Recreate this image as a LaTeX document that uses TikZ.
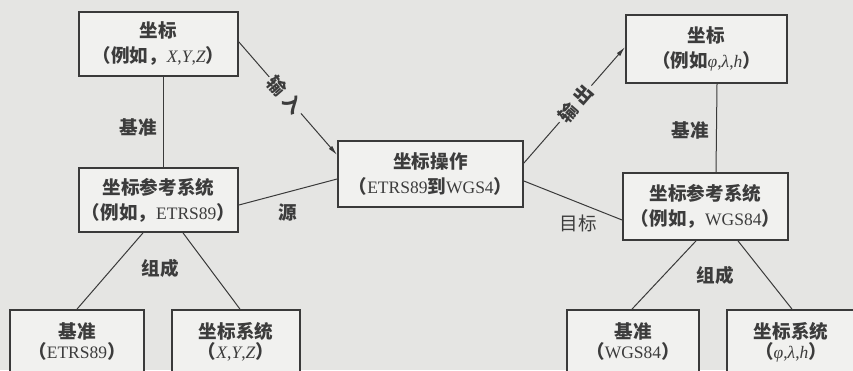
\documentclass[tikz,border=0pt]{standalone}
\usepackage{fontspec}
\setmainfont{Liberation Serif}
\newfontfamily\cjk{Noto Sans CJK SC}[Scale=1.06]
\usetikzlibrary{arrows.meta}
\definecolor{bgc}{HTML}{E5E5E3}
\definecolor{boxc}{HTML}{F1F1EF}
\definecolor{linec}{HTML}{3A3A3A}
\definecolor{txtc}{HTML}{3C3C3C}
\newcommand\zh[1]{{\cjk\bfseries #1}}
\newcommand\zr[1]{{\cjk #1}}
\tikzset{
  box/.style={draw=linec, line width=1.8pt, fill=boxc, inner sep=0pt, align=center, text=txtc, font=\fontsize{17.5}{25}\selectfont},
  sbox/.style={box, font=\fontsize{17.5}{20}\selectfont},
  conn/.style={draw=linec, line width=1pt},
  arr/.style={conn, -{Latex[length=10pt,width=4.5pt]}},
  lab/.style={text=txtc, font=\fontsize{17.5}{18}\selectfont, inner sep=1pt},
  slab/.style={lab, sloped, fill=bgc, inner sep=3pt}
}
\begin{document}
\begin{tikzpicture}[x=1pt,y=-1pt]
\fill[bgc] (0,0) rectangle (853,370);
\useasboundingbox (0,0) rectangle (853,370);
\clip (0,0) rectangle (853,370);

% boxes
\node[box, minimum width=159pt, minimum height=64pt] (A) at (158.5,44)
  {\zh{坐标}\\\zh{（例如，}\textit{X},\textit{Y},\textit{Z}\zh{）}};
\node[box, minimum width=159pt, minimum height=64pt] (B) at (158.5,200)
  {\zh{坐标参考系统}\\\zh{（例如，}ETRS89\zh{）}};
\node[box, minimum width=185pt, minimum height=66pt] (C) at (430.5,174)
  {\zh{坐标操作}\\\zh{（}ETRS89\zh{到}WGS4\zh{）}};
\node[box, minimum width=161pt, minimum height=68pt] (D) at (706.5,49)
  {\zh{坐标}\\\zh{（例如}\textit{φ},\textit{λ},\textit{h}\zh{）}};
\node[box, minimum width=165pt, minimum height=67pt] (E) at (705.5,206.5)
  {\zh{坐标参考系统}\\\zh{（例如，}WGS84\zh{）}};
\node[sbox, minimum width=134pt, minimum height=64pt] (F) at (77,342)
  {\zh{基准}\\\zh{（}ETRS89\zh{）}};
\node[sbox, minimum width=128pt, minimum height=64pt] (G) at (236,342)
  {\zh{坐标系统}\\\zh{（}\textit{X},\textit{Y},\textit{Z}\zh{）}};
\node[sbox, minimum width=132pt, minimum height=64pt] (H) at (633,342)
  {\zh{基准}\\\zh{（}WGS84\zh{）}};
\node[sbox, minimum width=128pt, minimum height=64pt] (I) at (791,342)
  {\zh{坐标系统}\\\zh{（}\textit{φ},\textit{λ},\textit{h}\zh{）}};

% connectors
\draw[conn] ([xshift=4.5pt]A.south) -- ([xshift=4.5pt]B.north);
\node[lab] (l1) at (138,127) {\zh{基准}};
\draw[arr] ([yshift=2pt]A.east) -- node[slab, pos=0.47] (l2) {\zh{输\hspace{5pt}入}} ([yshift=19pt]C.west);
\draw[conn] ([yshift=-5pt]B.east) -- ([yshift=-5pt]C.west);
\node[lab] (l3) at (288,213) {\zh{源}};
\draw[arr] ([yshift=11pt]C.east) -- node[slab, pos=0.51] (l4) {\zh{输\hspace{5pt}出}} ([yshift=2pt]D.west);
\draw[conn] ([yshift=-7pt]C.east) -- ([yshift=-13.5pt]E.west);
\node[lab] (l5) at (578,223) {\zr{目标}};
\draw[conn] ([xshift=10.5pt]D.south) -- ([xshift=10.5pt]E.north);
\node[lab] (l6) at (690,130) {\zh{基准}};
\draw[conn] ([xshift=-15.5pt]B.south) -- (F.north);
\draw[conn] ([xshift=24.5pt]B.south) -- ([xshift=4pt]G.north);
\node[lab] (l7) at (160,268) {\zh{组成}};
\draw[conn] ([xshift=-9.5pt]E.south) -- ([xshift=-1pt]H.north);
\draw[conn] ([xshift=32.5pt]E.south) -- ([xshift=1pt]I.north);
\node[lab] (l8) at (715,275) {\zh{组成}};
\end{tikzpicture}
\end{document}
